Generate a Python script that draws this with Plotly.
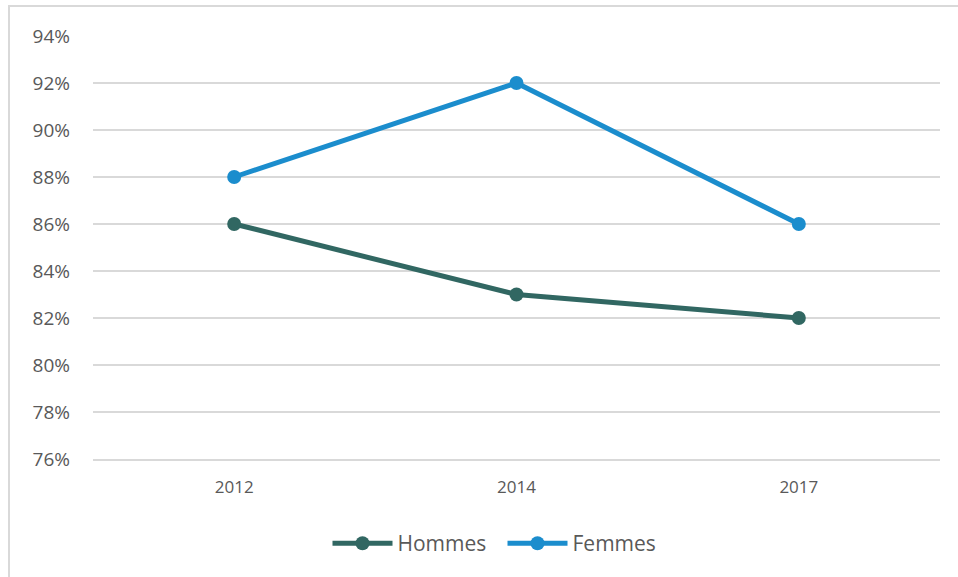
import plotly.graph_objects as go

years = ["2012", "2014", "2017"]
hommes = [0.86, 0.83, 0.82]
femmes = [0.88, 0.92, 0.86]
y_ticks = [0.76, 0.78, 0.80, 0.82, 0.84, 0.86, 0.88, 0.90, 0.92, 0.94]

W, H = 958, 577
ml, mr, mt, mb = 93, 18, 36, 118

fig = go.Figure()
fig.add_trace(go.Scatter(x=years, y=hommes, name="Hommes", mode="lines+markers",
                         line=dict(color="#316762", width=5),
                         marker=dict(size=14, color="#316762")))
fig.add_trace(go.Scatter(x=years, y=femmes, name="Femmes", mode="lines+markers",
                         line=dict(color="#1B8DCD", width=5),
                         marker=dict(size=14, color="#1B8DCD")))

pw = W - ml - mr
ph = H - mt - mb
# light frame around the chart area (bottom/right run off the image)
fig.add_shape(type="rect", xref="paper", yref="paper",
              x0=(9 - ml) / pw, x1=(W + 20 - ml) / pw,
              y0=-(H + 20 - mt - ph) / ph, y1=(H - 6 - mb) / ph,
              line=dict(color="#D9D9D9", width=2), fillcolor="rgba(0,0,0,0)", layer="below")

fig.update_layout(
    width=W, height=H,
    margin=dict(l=ml, r=mr, t=mt, b=mb),
    paper_bgcolor="white", plot_bgcolor="white",
    font=dict(family="Open Sans", color="#595959"),
    showlegend=True,
    legend=dict(orientation="h", x=0.5 - 14 / pw, xanchor="center", y=-0.2, yanchor="middle",
                font=dict(size=21, color="#595959"), itemwidth=60,
                entrywidth=100, entrywidthmode="pixels"),
    xaxis=dict(type="category", range=[-0.5, 2.5], showgrid=False,
               showline=True, linecolor="#D9D9D9", linewidth=1.5,
               zeroline=False, ticks="", tickfont=dict(size=17), ticklabelstandoff=12),
    yaxis=dict(range=[0.76, 0.94], tickvals=y_ticks, tickformat=".0%",
               showgrid=True, gridcolor="#D9D9D9", gridwidth=1.5, zeroline=False,
               showline=False, ticks="", tickfont=dict(size=19), ticklabelstandoff=22),
)

fig.write_html("out.html", config={"displayModeBar": False},
               post_script="document.body.style.margin='0';")
